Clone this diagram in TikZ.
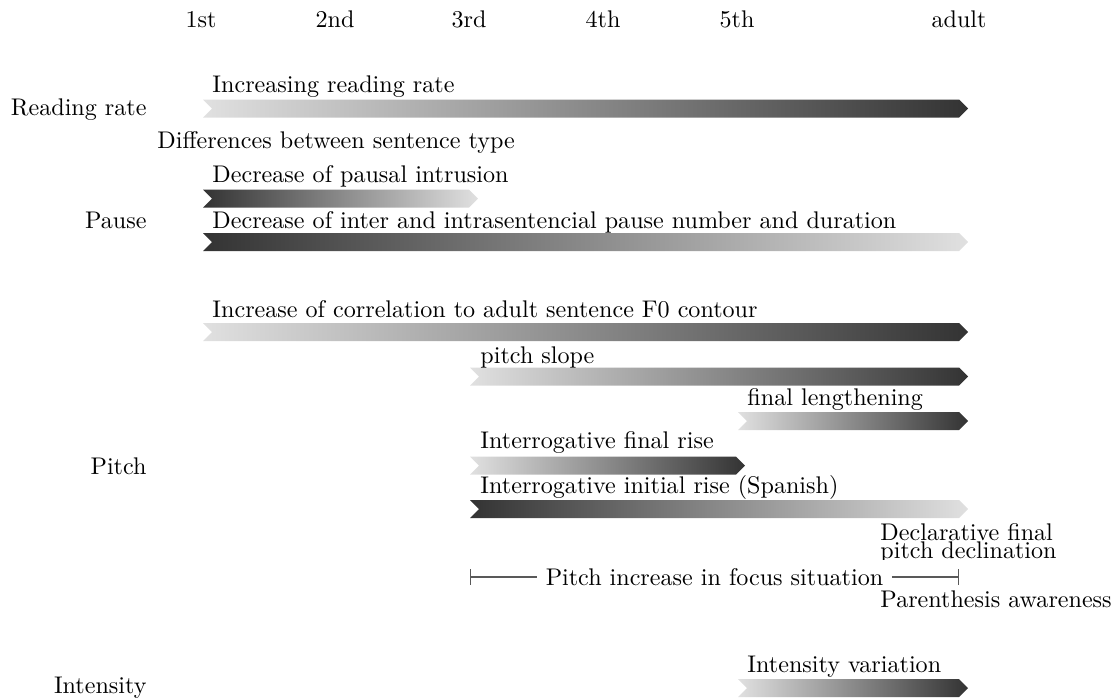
\documentclass[tikz,border=0pt]{standalone}
\definecolor{barlight}{gray}{0.88}
\definecolor{bardark}{gray}{0.2}
\begin{document}
\begin{tikzpicture}[x=0.415pt, y=-0.415pt,
  growbar/.style={left color=barlight, right color=bardark},
  fadebar/.style={left color=bardark, right color=barlight},
  txt/.style={anchor=base west, inner sep=0pt},
  rowname/.style={anchor=base east, inner sep=0pt},
  grade/.style={anchor=base, inner sep=0pt}]
\useasboundingbox ( 0, 0 ) rectangle ( 1113, 699 );

%% Grades
\node [grade] (first) at ( 201, 27.7 ) {1st};
\node [grade] (second) at ( 335, 27.7 ) {2nd};
\node [grade] (third) at ( 469, 27.7 ) {3rd};
\node [grade] (fourth) at ( 603, 27.7 ) {4th};
\node [grade] (fifth) at ( 737, 27.7 ) {5th};
\node [grade] (adult) at ( 959, 27.7 ) {adult};

%% Row names
\node [rowname] (rate) at ( 147, 115 ) {Reading rate};
\node [rowname] (pause) at ( 147, 228 ) {Pause};
\node [rowname] (pitch) at ( 147, 474 ) {Pitch};
\node [rowname] (intensity) at ( 147, 693 ) {Intensity};

%% Reading rate
\shade [growbar] ( 203, 99.5 ) -- ++( 756, 0 ) -- ++( 9, 9 ) -- ++( -9, 9 ) -- ++( -756, 0 ) -- ++( 9, -9 ) -- cycle;
\node [txt] (raterise) at ( 212, 92 ) {Increasing reading rate};
\node [txt] (sentdiff) at ( 157, 148 ) {Differences between sentence type};

%% Pause
\shade [fadebar] ( 203, 189.5 ) -- ++( 266, 0 ) -- ++( 9, 9 ) -- ++( -9, 9 ) -- ++( -266, 0 ) -- ++( 9, -9 ) -- cycle;
\node [txt] (intrusion) at ( 212, 182 ) {Decrease of pausal intrusion};
\shade [fadebar] ( 203, 233 ) -- ++( 756, 0 ) -- ++( 9, 9 ) -- ++( -9, 9 ) -- ++( -756, 0 ) -- ++( 9, -9 ) -- cycle;
\node [txt] (pausenum) at ( 212, 228 ) {Decrease of inter and intrasentencial pause number and duration};

%% Pitch
\shade [growbar] ( 203, 323 ) -- ++( 756, 0 ) -- ++( 9, 9 ) -- ++( -9, 9 ) -- ++( -756, 0 ) -- ++( 9, -9 ) -- cycle;
\node [txt] (contour) at ( 212, 317 ) {Increase of correlation to adult sentence F0 contour};
\shade [growbar] ( 470, 367.5 ) -- ++( 489, 0 ) -- ++( 9, 9 ) -- ++( -9, 9 ) -- ++( -489, 0 ) -- ++( 9, -9 ) -- cycle;
\node [txt] (slope) at ( 480, 363 ) {pitch slope};
\shade [growbar] ( 738, 412 ) -- ++( 221, 0 ) -- ++( 9, 9 ) -- ++( -9, 9 ) -- ++( -221, 0 ) -- ++( 9, -9 ) -- cycle;
\node [txt] (lengthen) at ( 747, 405 ) {final lengthening};
\shade [growbar] ( 470, 456.5 ) -- ++( 266, 0 ) -- ++( 9, 9 ) -- ++( -9, 9 ) -- ++( -266, 0 ) -- ++( 9, -9 ) -- cycle;
\node [txt] (finalrise) at ( 480, 448 ) {Interrogative final rise};
\shade [fadebar] ( 470, 500 ) -- ++( 489, 0 ) -- ++( 9, 9 ) -- ++( -9, 9 ) -- ++( -489, 0 ) -- ++( 9, -9 ) -- cycle;
\node [txt] (initrise) at ( 480, 493 ) {Interrogative initial rise (Spanish)};

\node [txt] (declA) at ( 880, 540 ) {Declarative final};
\node [txt] (declB) at ( 880, 558 ) {pitch declination};

% Focus interval
\node [fill=white] (focus) at ( 714.5, 577 ) {Pitch increase in focus situation};
\coordinate (focusL) at ( 470, 577 );
\coordinate (focusR) at ( 959, 577 );
\draw [black!65, semithick, |-] (focusL) -- (focus.west);
\draw [black!65, semithick, -|] (focus.east) -- (focusR);
\node [txt] (paren) at ( 880, 607 ) {Parenthesis awareness};

%% Intensity
\shade [growbar] ( 738, 679 ) -- ++( 221, 0 ) -- ++( 9, 9 ) -- ++( -9, 9 ) -- ++( -221, 0 ) -- ++( 9, -9 ) -- cycle;
\node [txt] (variation) at ( 747, 672 ) {Intensity variation};

\end{tikzpicture}
\end{document}
